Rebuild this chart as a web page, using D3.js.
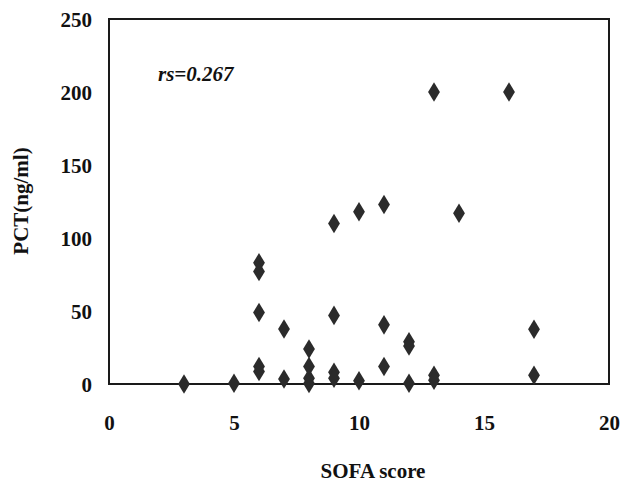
<!DOCTYPE html>
<html><head><meta charset="utf-8">
<script src="https://cdn.jsdelivr.net/npm/d3@7"></script>
<style>body{margin:0;background:#fff}svg{display:block}</style>
</head><body><svg id="c" width="620" height="483"></svg>
<script>
const sofa = [3,5,6,6,6,6,6,7,7,8,8,8,8,9,9,9,9,10,10,11,11,11,12,12,12,13,13,13,14,16,17,17];
const pct  = [0,0.5,83,77,49,12,8.5,37.7,3.4,24,12,4,0.3,110,47,8,4,118,2.3,123,40.5,12,29,26,0.5,200,6,2.5,117,200,37.5,6];
const xTicks = [0,5,10,15,20];
const yTicks = [0,50,100,150,200,250];
const xTitle = "SOFA score";
const yTitle = "PCT(ng/ml)";
const note = "rs=0.267";

const FONT = "'Liberation Serif', 'Times New Roman', serif";
const svg = d3.select("#c");
const L=109, R=609, T=19, B=384;
const x = d3.scaleLinear().domain([0,20]).range([L,R]);
const y = d3.scaleLinear().domain([0,250]).range([B,T]);

svg.append("rect").attr("x",L).attr("y",T).attr("width",R-L).attr("height",B-T)
  .attr("fill","none").attr("stroke","#1a1a1a").attr("stroke-width",2);

const xa = svg.append("g").attr("transform",`translate(0,${B})`)
  .call(d3.axisBottom(x).tickValues(xTicks).tickSize(0).tickPadding(46).tickFormat(d3.format("d")));
const ya = svg.append("g").attr("transform",`translate(${L},0)`)
  .call(d3.axisLeft(y).tickValues(yTicks).tickSize(0).tickPadding(17).tickFormat(d3.format("d")));
function styleText(s){ return s.style("font-family",FONT).style("font-weight","bold").style("font-size","21px").style("fill","#111"); }
[xa,ya].forEach(a=>{a.select(".domain").remove(); styleText(a.selectAll("text"));});
ya.selectAll("text").attr("dy","0.35em");
xa.selectAll("text").attr("dy","0");

styleText(svg.append("text").attr("x",373).attr("y",478).attr("text-anchor","middle").text(xTitle));
styleText(svg.append("text").attr("transform","translate(28,201) rotate(-90)").attr("text-anchor","middle").text(yTitle));
styleText(svg.append("text").attr("x",158).attr("y",81).text(note)).style("font-style","italic");

const sym = d3.symbol().type(d3.symbolDiamond).size(110);
svg.append("g").selectAll("path").data(sofa.map((s,i)=>[s,pct[i]])).join("path")
  .attr("d",sym)
  .attr("transform",d=>`translate(${x(d[0])},${y(d[1])}) scale(1.05,1)`)
  .attr("fill","#2b2b2b");
</script></body></html>
